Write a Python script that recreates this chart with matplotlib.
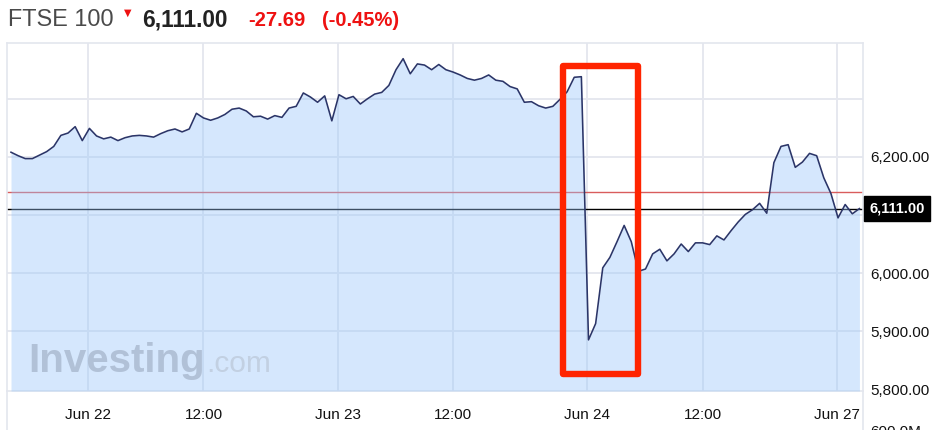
"""FTSE 100 intraday, Jun 21 - Jun 27 (Brexit vote drop), investing.com style."""

import matplotlib

matplotlib.use("Agg")
import matplotlib.pyplot as plt
import numpy as np
from matplotlib.lines import Line2D
from matplotlib.patches import Rectangle

W, H = 945, 430

# 15-minute closes, one point per trading step
PRICES = [
    6208, 6202, 6197, 6197, 6203, 6209, 6218, 6237, 6241, 6252,
    6228, 6249, 6236, 6231, 6234, 6228, 6233, 6236, 6237, 6236,
    6234, 6240, 6245, 6248, 6243, 6248, 6275, 6267, 6263, 6267,
    6273, 6282, 6284, 6279, 6269, 6270, 6265, 6271, 6268, 6284,
    6287, 6310, 6303, 6294, 6305, 6262, 6307, 6300, 6304, 6291,
    6300, 6308, 6311, 6323, 6350, 6369, 6343, 6360, 6358, 6350,
    6359, 6350, 6346, 6341, 6335, 6332, 6335, 6341, 6332, 6330,
    6321, 6317, 6294, 6295, 6288, 6284, 6287, 6299, 6312, 6337,
    6338, 5885, 5913, 6009, 6027, 6054, 6082, 6054, 6003, 6007,
    6033, 6041, 6021, 6033, 6050, 6037, 6052, 6052, 6049, 6064,
    6057, 6073, 6088, 6101, 6109, 6120, 6103, 6190, 6218, 6221,
    6182, 6191, 6206, 6202, 6164, 6137, 6095, 6118, 6102, 6111,
]
PREV_CLOSE = 6138.69
LAST = 6111.00

X_TICKS = [10.8, 27, 45.8, 62, 80.8, 97, 115.8]
X_LABELS = ["Jun 22", "12:00", "Jun 23", "12:00", "Jun 24", "12:00", "Jun 27"]
Y_GRID = [5800, 5900, 6000, 6100, 6200, 6300]
Y_LABELS = ["5,800.00", "5,900.00", "6,000.00", "", "6,200.00", ""]

# highlighted window around the referendum result (steps, price)
BOX_X = (77.4, 87.9)
BOX_Y = (5826, 6357)

plt.rcParams["font.family"] = ["Liberation Sans", "DejaVu Sans"]

fig = plt.figure(figsize=(W / 100, H / 100), dpi=100)
fig.patch.set_facecolor("white")

left, right, top, bottom = 7, 863, 43, 391
ax = fig.add_axes([left / W, 1 - bottom / H, (right - left) / W, (bottom - top) / H])

x = np.arange(len(PRICES))
y_min, y_max = 5797, 6396
ax.set_xlim(-0.56, 119.5)
ax.set_ylim(y_min, y_max)

grid_kw = dict(color="#E6E8EF", lw=1.4, zorder=1)
for g in Y_GRID[1:]:
    ax.axhline(g, **grid_kw)
for t in X_TICKS:
    ax.axvline(t, **grid_kw)

ax.axhline(PREV_CLOSE, color="#D95C5C", lw=1.0, zorder=2)
ax.axhline(LAST, color="black", lw=1.0, zorder=2)

ax.fill_between(x, PRICES, y_min, color="#98C5FA", alpha=0.4, lw=0, zorder=3)
ax.plot(x, PRICES, color="#2B3568", lw=1.15, zorder=5)

# watermark
ax.text(21 / (right - left), 0.055, "Investing", transform=ax.transAxes,
        fontsize=29, fontweight="bold", color="#B1C1D7", zorder=4, va="baseline")
ax.text(199 / (right - left), 0.055, ".com", transform=ax.transAxes,
        fontsize=21.5, color="#C2D0E2", zorder=4, va="baseline")

ax.add_patch(Rectangle((BOX_X[0], BOX_Y[0]), BOX_X[1] - BOX_X[0], BOX_Y[1] - BOX_Y[0],
                       fill=False, ec="#FF2400", lw=4.6, joinstyle="round", zorder=6))

ax.set_xticks(X_TICKS)
ax.set_xticklabels(X_LABELS)
ax.set_yticks(Y_GRID)
ax.set_yticklabels(Y_LABELS)
ax.yaxis.tick_right()
ax.tick_params(axis="x", length=0, pad=12, labelsize=11, labelcolor="#111111")
ax.tick_params(axis="y", length=0, pad=5.5, labelsize=11, labelcolor="#111111")
for side in ["left", "right", "top", "bottom"]:
    ax.spines[side].set_color("#E3E6EE")
    ax.spines[side].set_linewidth(1.2)

ax.annotate(f"{LAST:,.2f}", xy=(1, LAST), xycoords=("axes fraction", "data"),
            xytext=(4.5, 0), textcoords="offset points", va="center", ha="left",
            fontsize=10.5, fontweight="bold", color="white", zorder=7,
            bbox=dict(boxstyle="square,pad=0.35", fc="black", ec="black"))

# border lines continue below the chart
for px in (left, right):
    fig.add_artist(Line2D([px / W, px / W], [0, 1 - bottom / H],
                          color="#E3E6EE", lw=1.2))

# top of the volume scale label, cut by the bottom edge as in the screenshot
fig.text(870 / W, 1 - 425 / H, "600.0M", fontsize=11, color="#111111", va="top")

# header
base = 1 - 26 / H
fig.text(8 / W, base, "FTSE 100", fontsize=16.8, color="#4A4A4A", va="baseline")
fig.text(124 / W, 1 - 16 / H, "\u25bc", fontsize=7, color="#EE1111",
         va="baseline", family="DejaVu Sans")
fig.text(142 / W, base, "6,111.00", fontsize=16.3, fontweight="bold",
         color="#222222", va="baseline")
fig.text(248 / W, base, "-27.69", fontsize=14.5, fontweight="bold",
         color="#EE1111", va="baseline")
fig.text(322 / W, base, "(-0.45%)", fontsize=14.5, fontweight="bold",
         color="#EE1111", va="baseline")

fig.savefig("out.png", dpi=100)
